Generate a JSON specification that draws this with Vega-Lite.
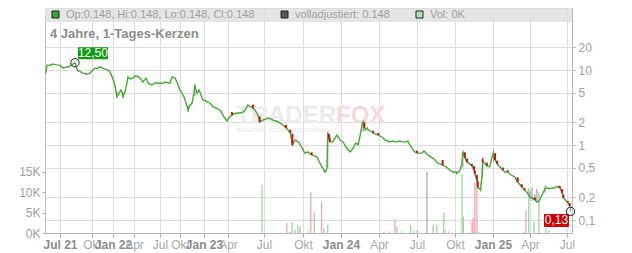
{
"$schema":"https://vega.github.io/schema/vega-lite/v6.json",
"width":527,"height":225,
"autosize":{"type":"none"},
"padding":{"left":45,"top":8,"right":60,"bottom":20},
"background":"white",
"config":{"font":"Liberation Sans","view":{"stroke":"#c8c8c8"}},
"datasets":{
"price":[
{"d":"2021-05-18","c":9.1},{"d":"2021-05-21","c":11.6},{"d":"2021-05-30","c":11.5},{"d":"2021-06-08","c":12.0},{"d":"2021-06-20","c":11.7},{"d":"2021-07-01","c":11.6},{"d":"2021-07-09","c":10.6},{"d":"2021-07-18","c":11.0},{"d":"2021-07-24","c":10.9},{"d":"2021-07-29","c":11.3},{"d":"2021-08-04","c":11.7},{"d":"2021-08-13","c":12.5},{"d":"2021-08-21","c":9.7},{"d":"2021-08-27","c":9.6},{"d":"2021-09-05","c":9.1},{"d":"2021-09-16","c":8.8},{"d":"2021-09-25","c":9.1},{"d":"2021-10-05","c":10.0},{"d":"2021-10-14","c":10.6},{"d":"2021-10-27","c":10.5},{"d":"2021-11-05","c":11.0},{"d":"2021-11-18","c":10.6},{"d":"2021-11-27","c":10.3},{"d":"2021-12-10","c":10.0},{"d":"2021-12-19","c":9.4},{"d":"2021-12-28","c":8.1},
{"d":"2022-01-05","c":6.9},{"d":"2022-01-09","c":6.3},{"d":"2022-01-18","c":4.4,"h":5.2,"l":4.2},{"d":"2022-01-27","c":4.9},{"d":"2022-02-04","c":5.4},{"d":"2022-02-08","c":5.1},{"d":"2022-02-13","c":4.4,"h":5.0,"l":4.3},{"d":"2022-02-21","c":5.1},{"d":"2022-02-26","c":5.9},{"d":"2022-03-06","c":8.1},{"d":"2022-03-15","c":7.6},{"d":"2022-03-28","c":7.8},{"d":"2022-04-04","c":8.3},{"d":"2022-04-11","c":8.3},{"d":"2022-04-22","c":7.8},{"d":"2022-05-02","c":6.9},{"d":"2022-05-13","c":7.8},{"d":"2022-05-20","c":6.7},{"d":"2022-05-27","c":6.5},{"d":"2022-06-03","c":6.3},{"d":"2022-06-13","c":6.7},{"d":"2022-06-24","c":6.7},{"d":"2022-07-01","c":6.6},{"d":"2022-07-15","c":6.7},{"d":"2022-07-24","c":6.9},{"d":"2022-08-07","c":6.7},{"d":"2022-08-16","c":6.7},{"d":"2022-08-26","c":8.1},{"d":"2022-09-08","c":7.8},{"d":"2022-09-18","c":6.9},{"d":"2022-09-22","c":6.3},{"d":"2022-10-01","c":5.4},{"d":"2022-10-09","c":4.9},{"d":"2022-10-16","c":4.4},{"d":"2022-10-20","c":4.0},{"d":"2022-10-28","c":3.3},{"d":"2022-11-01","c":2.9,"h":3.4,"l":2.8},{"d":"2022-11-08","c":3.4},{"d":"2022-11-16","c":3.6},{"d":"2022-11-24","c":5.1},{"d":"2022-11-27","c":6.3,"h":6.5,"l":4.5},{"d":"2022-12-05","c":4.9},{"d":"2022-12-13","c":5.4},{"d":"2022-12-16","c":5.1},{"d":"2022-12-28","c":4.0},
{"d":"2023-01-08","c":3.86},{"d":"2023-01-16","c":3.74},{"d":"2023-01-27","c":3.52},{"d":"2023-02-04","c":3.21},{"d":"2023-02-15","c":3.11},{"d":"2023-03-02","c":2.93},{"d":"2023-03-09","c":2.67},{"d":"2023-03-13","c":2.51},{"d":"2023-03-20","c":2.29},{"d":"2023-03-28","c":2.09},{"d":"2023-04-03","c":2.29},{"d":"2023-04-11","c":2.51,"o":2.75},{"d":"2023-04-16","c":2.59},{"d":"2023-04-24","c":2.67},{"d":"2023-05-01","c":2.67},{"d":"2023-05-09","c":2.75},{"d":"2023-05-14","c":2.93},{"d":"2023-05-19","c":3.21},{"d":"2023-05-21","c":3.41},{"d":"2023-05-26","c":3.31},{"d":"2023-06-03","c":3.11,"o":3.45},{"d":"2023-06-08","c":2.93},{"d":"2023-06-13","c":2.67},{"d":"2023-06-18","c":2.29},{"d":"2023-06-20","c":2.03,"o":2.4},{"d":"2023-06-25","c":2.09},{"d":"2023-06-28","c":2.15},{"d":"2023-07-06","c":2.22},{"d":"2023-07-10","c":2.29},{"d":"2023-07-18","c":2.22},{"d":"2023-07-22","c":2.15},{"d":"2023-07-29","c":2.09},{"d":"2023-08-04","c":2.03},{"d":"2023-08-11","c":1.91},{"d":"2023-08-15","c":1.85},{"d":"2023-08-22","c":1.69,"o":1.85},{"d":"2023-08-27","c":1.585},{"d":"2023-09-01","c":1.445,"o":1.6},{"d":"2023-09-06","c":1.0,"o":1.4,"h":1.45,"l":0.98},{"d":"2023-09-11","c":1.13},{"d":"2023-09-13","c":1.17},{"d":"2023-09-20","c":1.10},{"d":"2023-09-25","c":1.0},{"d":"2023-09-29","c":0.91},{"d":"2023-10-03","c":0.83},{"d":"2023-10-05","c":0.78},{"d":"2023-10-13","c":0.81},{"d":"2023-10-18","c":0.76},{"d":"2023-10-22","c":0.74,"o":0.8},{"d":"2023-10-30","c":0.71},{"d":"2023-11-04","c":0.69},{"d":"2023-11-11","c":0.575},{"d":"2023-11-16","c":0.51},{"d":"2023-11-21","c":0.46},{"d":"2023-11-23","c":0.437,"h":0.47,"l":0.42},{"d":"2023-11-26","c":0.45},{"d":"2023-11-28","c":0.494},{"d":"2023-11-30","c":1.445,"h":1.5,"l":0.5},{"d":"2023-12-03","c":1.24,"o":1.4},{"d":"2023-12-05","c":1.10,"o":1.24},{"d":"2023-12-12","c":1.10},{"d":"2023-12-17","c":1.24},{"d":"2023-12-22","c":1.36},{"d":"2023-12-27","c":1.24},{"d":"2023-12-29","c":1.17},
{"d":"2024-01-06","c":1.10},{"d":"2024-01-13","c":0.94},{"d":"2024-01-18","c":0.86},{"d":"2024-01-23","c":0.81},{"d":"2024-01-27","c":0.86},{"d":"2024-01-30","c":0.91},{"d":"2024-02-04","c":1.03},{"d":"2024-02-06","c":1.06},{"d":"2024-02-11","c":1.0},{"d":"2024-02-16","c":1.36},{"d":"2024-02-21","c":1.91},{"d":"2024-02-23","c":2.03,"h":2.1,"l":1.5},{"d":"2024-02-26","c":1.69,"o":2.0},{"d":"2024-02-28","c":1.585},{"d":"2024-03-04","c":1.69},{"d":"2024-03-06","c":1.585},{"d":"2024-03-11","c":1.54},{"d":"2024-03-18","c":1.445,"o":1.55},{"d":"2024-03-23","c":1.40},{"d":"2024-03-30","c":1.36,"o":1.45},{"d":"2024-04-03","c":1.32},{"d":"2024-04-08","c":1.28},{"d":"2024-04-13","c":1.20},{"d":"2024-04-15","c":1.17},{"d":"2024-04-22","c":1.13},{"d":"2024-04-27","c":1.10},{"d":"2024-05-04","c":1.13},{"d":"2024-05-09","c":1.10},{"d":"2024-05-14","c":1.10},{"d":"2024-05-21","c":1.13},{"d":"2024-05-26","c":1.10},{"d":"2024-06-02","c":1.10},{"d":"2024-06-07","c":1.10},{"d":"2024-06-09","c":1.13},{"d":"2024-06-14","c":1.0},{"d":"2024-06-19","c":0.91},{"d":"2024-06-21","c":0.86},{"d":"2024-06-26","c":0.81},{"d":"2024-07-01","c":0.78,"o":0.84},{"d":"2024-07-08","c":0.78},{"d":"2024-07-13","c":0.78},{"d":"2024-07-18","c":0.83},{"d":"2024-07-20","c":0.81},{"d":"2024-07-25","c":0.76},{"d":"2024-07-27","c":0.74},{"d":"2024-08-01","c":0.71},{"d":"2024-08-08","c":0.67},{"d":"2024-08-13","c":0.63},{"d":"2024-08-20","c":0.575},{"d":"2024-08-25","c":0.56},{"d":"2024-09-01","c":0.54,"o":0.63},{"d":"2024-09-06","c":0.525},{"d":"2024-09-13","c":0.494},{"d":"2024-09-18","c":0.464},{"d":"2024-09-25","c":0.437},{"d":"2024-10-01","c":0.437},{"d":"2024-10-05","c":0.423,"h":0.45,"l":0.40},{"d":"2024-10-10","c":0.437},{"d":"2024-10-13","c":0.464},{"d":"2024-10-17","c":0.54},{"d":"2024-10-20","c":0.81,"h":0.86,"l":0.5},{"d":"2024-10-25","c":0.67,"o":0.8},{"d":"2024-10-30","c":0.59,"o":0.66},{"d":"2024-11-06","c":0.56},{"d":"2024-11-11","c":0.525,"o":0.56},{"d":"2024-11-16","c":0.464,"o":0.52},{"d":"2024-11-18","c":0.41,"o":0.46},{"d":"2024-11-23","c":0.34,"o":0.40},{"d":"2024-11-25","c":0.275,"o":0.33,"h":0.34,"l":0.26},{"d":"2024-11-30","c":0.26},{"d":"2024-12-02","c":0.25},{"d":"2024-12-05","c":0.375},{"d":"2024-12-07","c":0.59,"o":0.65,"h":0.7,"l":0.37},{"d":"2024-12-12","c":0.575},{"d":"2024-12-17","c":0.525,"o":0.58},{"d":"2024-12-24","c":0.51},{"d":"2024-12-29","c":0.67},
{"d":"2025-01-02","c":0.78,"h":0.85,"l":0.6},{"d":"2025-01-06","c":0.63,"o":0.78},{"d":"2025-01-11","c":0.56,"o":0.62},{"d":"2025-01-18","c":0.51},{"d":"2025-01-25","c":0.464,"o":0.5},{"d":"2025-01-30","c":0.437},{"d":"2025-02-06","c":0.437,"o":0.46},{"d":"2025-02-11","c":0.41},{"d":"2025-02-18","c":0.386},{"d":"2025-02-23","c":0.375},{"d":"2025-03-02","c":0.32,"o":0.37},{"d":"2025-03-07","c":0.30},{"d":"2025-03-12","c":0.275,"o":0.3},{"d":"2025-03-19","c":0.25,"o":0.265},{"d":"2025-03-24","c":0.236},{"d":"2025-04-01","c":0.203,"h":0.24,"l":0.19},{"d":"2025-04-06","c":0.197,"h":0.27,"l":0.18},{"d":"2025-04-13","c":0.185,"o":0.2,"h":0.22,"l":0.18},{"d":"2025-04-18","c":0.174,"h":0.26,"l":0.17},{"d":"2025-04-23","c":0.179},{"d":"2025-04-25","c":0.185},{"d":"2025-04-30","c":0.215},{"d":"2025-05-03","c":0.229},{"d":"2025-05-08","c":0.26,"h":0.29,"l":0.23},{"d":"2025-05-12","c":0.27},{"d":"2025-05-17","c":0.26},{"d":"2025-05-25","c":0.265},{"d":"2025-06-02","c":0.27},{"d":"2025-06-07","c":0.28},{"d":"2025-06-12","c":0.275,"o":0.285},{"d":"2025-06-14","c":0.265,"o":0.28},{"d":"2025-06-19","c":0.229,"o":0.26},{"d":"2025-06-22","c":0.197,"o":0.22},{"d":"2025-06-27","c":0.185},{"d":"2025-06-29","c":0.18},{"d":"2025-07-03","c":0.17,"o":0.18},{"d":"2025-07-08","c":0.154,"o":0.168},{"d":"2025-07-10","c":0.148,"h":0.15,"l":0.13}
],
"vol":[
{"d":"2023-06-26","v":11800,"k":"up"},{"d":"2023-08-24","v":2500,"k":"down"},{"d":"2023-08-31","v":300,"k":"down"},{"d":"2023-09-05","v":2700,"k":"up"},{"d":"2023-09-12","v":800,"k":"up"},{"d":"2023-09-19","v":2000,"k":"up"},{"d":"2023-09-24","v":1500,"k":"down"},{"d":"2023-10-13","v":500,"k":"up"},{"d":"2023-10-20","v":10000,"k":"down"},{"d":"2023-10-28","v":5200,"k":"up"},{"d":"2023-11-15","v":7600,"k":"down"},{"d":"2023-11-21","v":1200,"k":"down"},{"d":"2023-11-30","v":2000,"k":"up"},
{"d":"2024-04-13","v":300,"k":"down"},{"d":"2024-04-25","v":400,"k":"up"},{"d":"2024-05-09","v":3400,"k":"down"},{"d":"2024-05-14","v":1700,"k":"up"},{"d":"2024-05-26","v":400,"k":"up"},{"d":"2024-06-16","v":2000,"k":"up"},{"d":"2024-06-24","v":700,"k":"up"},{"d":"2024-07-01","v":700,"k":"down"},{"d":"2024-07-25","v":15000,"k":"flat"},{"d":"2024-08-09","v":2000,"k":"up"},{"d":"2024-08-18","v":2000,"k":"up"},{"d":"2024-09-04","v":5000,"k":"up"},{"d":"2024-09-07","v":500,"k":"down"},{"d":"2024-09-16","v":400,"k":"down"},{"d":"2024-10-18","v":14400,"k":"up"},{"d":"2024-10-21","v":4000,"k":"up"},{"d":"2024-11-11","v":2700,"k":"down"},{"d":"2024-11-14","v":3700,"k":"down"},{"d":"2024-11-18","v":12300,"k":"down"},{"d":"2024-11-23","v":11300,"k":"down"},{"d":"2024-11-30","v":300,"k":"up"},
{"d":"2025-03-17","v":300,"k":"up"},{"d":"2025-03-22","v":5600,"k":"down"},{"d":"2025-03-29","v":11000,"k":"up"},{"d":"2025-04-11","v":2700,"k":"up"},{"d":"2025-04-23","v":10000,"k":"up"},{"d":"2025-05-10","v":1200,"k":"up"},{"d":"2025-05-17","v":700,"k":"up"}
],
"notes":[{"d":"2021-08-13","p":12.5,"t":"12,50","k":"hi"},{"d":"2025-07-10","p":0.13,"t":"0,13","k":"lo"}],
"legend":[{"s":"Op:0.148, Hi:0.148, Lo:0.148, Cl:0.148"},{"s":"volladjustiert: 0.148"},{"s":"Vol: 0K"}],
"one":[{}]
},
"layer":[
 {"data":{"name":"vol"},"mark":{"type":"rule","strokeWidth":1.2},
  "encoding":{
   "x":{"field":"d","type":"temporal",
    "scale":{"type":"utc","nice":false,"domain":{"expr":"[1621036800000,1625097600000,1633046400000,1640995200000,1648771200000,1656633600000,1664582400000,1672531200000,1680307200000,1688169600000,1696118400000,1704067200000,1711929600000,1719792000000,1727740800000,1735689600000,1743465600000,1751328000000,1752451200000]"},"range":[0,15,47,68,89,115,135,159,183,219,258,296,334,372,410,448,485,522,527]},
    "axis":{"title":null,"tickCount":40,
     "values":[1625097600000,1633046400000,1640995200000,1648771200000,1656633600000,1664582400000,1672531200000,1680307200000,1688169600000,1696118400000,1704067200000,1711929600000,1719792000000,1727740800000,1735689600000,1743465600000,1751328000000],
     "labelExpr":"utcmonth(datum.value)==0 ? 'Jan ' + utcFormat(datum.value,'%y') : utcmonth(datum.value)==3 ? 'Apr' : utcmonth(datum.value)==6 ? (utcyear(datum.value)==2021 ? 'Jul 21' : 'Jul') : 'Okt'",
     "labelFontWeight":{"condition":{"test":"utcmonth(datum.value)==0 || (utcyear(datum.value)==2021 && utcmonth(datum.value)==6)","value":"bold"},"value":"normal"},
     "labelColor":{"condition":{"test":"utcmonth(datum.value)==0 || (utcyear(datum.value)==2021 && utcmonth(datum.value)==6)","value":"#8c8c8c"},"value":"#a8a8a8"},
     "labelFontSize":12,"labelPadding":2,"labelOverlap":false,"labelBound":false,"labelFlush":false,
     "grid":true,"gridColor":"#dddddd","tickSize":4,"tickColor":"#aaaaaa","domainColor":"#bbbbbb"}},
   "y":{"field":"v","type":"quantitative","scale":{"domain":[0,55000],"nice":false},
    "axis":{"orient":"left","title":null,"values":[0,5000,10000,15000],"labelExpr":"(datum.value/1000)+'K'","grid":false,"tickSize":3,"tickColor":"#aaaaaa","domainColor":"#bbbbbb","labelColor":"#a0a0a0","labelFontSize":12,"labelPadding":2}},
   "y2":{"datum":0},
   "color":{"field":"k","type":"nominal","scale":{"domain":["up","down","flat"],"range":["#8fd48f","#f0a0aa","#aaaaaa"]},"legend":null}}},
 {"layer":[
  {"data":{"name":"one"},"mark":{"type":"text","text":"TRADER","align":"right","baseline":"alphabetic","fontSize":24,"fontWeight":"bold","color":"#ececec"},
   "encoding":{"x":{"datum":1703030400000,"type":"temporal"},
    "y":{"datum":1.965,"type":"quantitative","scale":{"type":"log","domain":[0.0671,67.1],"nice":false}}}},
  {"data":{"name":"one"},"mark":{"type":"text","text":"FOX","align":"left","baseline":"alphabetic","fontSize":24,"fontWeight":"bold","color":"#f8d8d8"},
   "encoding":{"x":{"datum":1703030400000,"type":"temporal"},
    "y":{"datum":1.965,"type":"quantitative","scale":{"type":"log","domain":[0.0671,67.1],"nice":false}}}},
  {"data":{"name":"one"},"mark":{"type":"text","text":"REALTIME STOCK SCREENING","align":"center","baseline":"middle","fontSize":6,"fontWeight":"bold","color":"#ececec"},
   "encoding":{"x":{"datum":1691798400000,"type":"temporal"},
    "y":{"datum":1.585,"type":"quantitative","scale":{"type":"log","domain":[0.0671,67.1],"nice":false}}}},
  {"data":{"name":"price"},"transform":[{"filter":"isValid(datum.h)"}],"mark":{"type":"rule","color":"#8c8c8c","strokeWidth":1},
   "encoding":{"x":{"field":"d","type":"temporal"},"y":{"field":"l","type":"quantitative","scale":{"type":"log","domain":[0.0671,67.1],"nice":false}},"y2":{"field":"h"}}},
  {"data":{"name":"price"},"mark":{"type":"line","color":"#44a833","strokeWidth":1.4},
   "encoding":{"x":{"field":"d","type":"temporal"},"y":{"field":"c","type":"quantitative","scale":{"type":"log","domain":[0.0671,67.1],"nice":false},
    "axis":{"orient":"right","title":null,"values":[0.1,0.2,0.5,1,2,5,10,20],"labelExpr":"replace(toString(datum.value),'.',',')","grid":true,"gridColor":"#dddddd","tickSize":3,"tickColor":"#aaaaaa","domainColor":"#bbbbbb","labelColor":"#a0a0a0","labelFontSize":12,"labelPadding":3}}}},
  {"data":{"name":"price"},"transform":[{"filter":"isValid(datum.o) && datum.o > datum.c"}],"mark":{"type":"rule","color":"#cc1111","strokeWidth":2},
   "encoding":{"x":{"field":"d","type":"temporal"},"y":{"field":"o","type":"quantitative","scale":{"type":"log","domain":[0.0671,67.1],"nice":false}},"y2":{"field":"c"}}},
  {"data":{"name":"notes"},"mark":{"type":"point","filled":false,"color":"#222222","size":70,"strokeWidth":1,"opacity":1},
   "encoding":{"x":{"field":"d","type":"temporal"},"y":{"field":"p","type":"quantitative","scale":{"type":"log","domain":[0.0671,67.1],"nice":false}}}},
  {"data":{"name":"notes"},"transform":[{"filter":"datum.k=='hi'"}],"mark":{"type":"point","shape":"M-1.25,-0.5H1.25V0.5H-1.25Z","size":576,"filled":true,"color":"#129912","opacity":1,"xOffset":18,"yOffset":-9.5},
   "encoding":{"x":{"field":"d","type":"temporal"},"y":{"field":"p","type":"quantitative","scale":{"type":"log","domain":[0.0671,67.1],"nice":false}}}},
  {"data":{"name":"notes"},"transform":[{"filter":"datum.k=='hi'"}],"mark":{"type":"text","color":"white","fontSize":12,"dx":18,"dy":-9.5,"align":"center","baseline":"middle"},
   "encoding":{"x":{"field":"d","type":"temporal"},"y":{"field":"p","type":"quantitative","scale":{"type":"log","domain":[0.0671,67.1],"nice":false}},"text":{"field":"t"}}},
  {"data":{"name":"notes"},"transform":[{"filter":"datum.k=='lo'"}],"mark":{"type":"point","shape":"M-1,-0.52H1V0.52H-1Z","size":625,"filled":true,"color":"#cc0000","opacity":1,"xOffset":-14,"yOffset":9},
   "encoding":{"x":{"field":"d","type":"temporal"},"y":{"field":"p","type":"quantitative","scale":{"type":"log","domain":[0.0671,67.1],"nice":false}}}},
  {"data":{"name":"notes"},"transform":[{"filter":"datum.k=='lo'"}],"mark":{"type":"text","color":"white","fontSize":12,"dx":-14,"dy":9,"align":"center","baseline":"middle"},
   "encoding":{"x":{"field":"d","type":"temporal"},"y":{"field":"p","type":"quantitative","scale":{"type":"log","domain":[0.0671,67.1],"nice":false}},"text":{"field":"t"}}},
  {"data":{"name":"one"},"mark":{"type":"rect","color":"#e0e0e0","opacity":0.85},
   "encoding":{"x":{"datum":1621036800000,"type":"temporal"},"x2":{"datum":1752451200000},
    "y":{"datum":67.1,"type":"quantitative","scale":{"type":"log","domain":[0.0671,67.1],"nice":false}},"y2":{"datum":43.65}}},
  {"data":{"name":"legend"},"mark":{"type":"square","opacity":0},
   "encoding":{"x":{"field":"d","type":"temporal"},"color":{"field":"s","type":"nominal",
    "scale":{"domain":["Op:0.148, Hi:0.148, Lo:0.148, Cl:0.148","volladjustiert: 0.148","Vol: 0K"],"range":["#33a633","#595959","#b4e0b4"]},
    "legend":{"orient":"none","legendX":5,"legendY":1,"direction":"horizontal","columns":3,"padding":0,
     "title":"4 Jahre, 1-Tages-Kerzen","titleOrient":"bottom","titleAnchor":"start","titleFontSize":13,"titleFontWeight":"bold","titleColor":"#8c8c8c","titlePadding":8,"titleLimit":400,
     "labelFontSize":11,"labelColor":"#a0a0a0","labelLimit":400,"labelOffset":5,
     "symbolType":"square","symbolSize":49,"symbolStrokeColor":"#222222","symbolStrokeWidth":1,"symbolOpacity":1,"columnPadding":24}}}}
 ]}
],
"resolve":{"scale":{"y":"independent","color":"independent"},"axis":{"y":"independent"}}
}
